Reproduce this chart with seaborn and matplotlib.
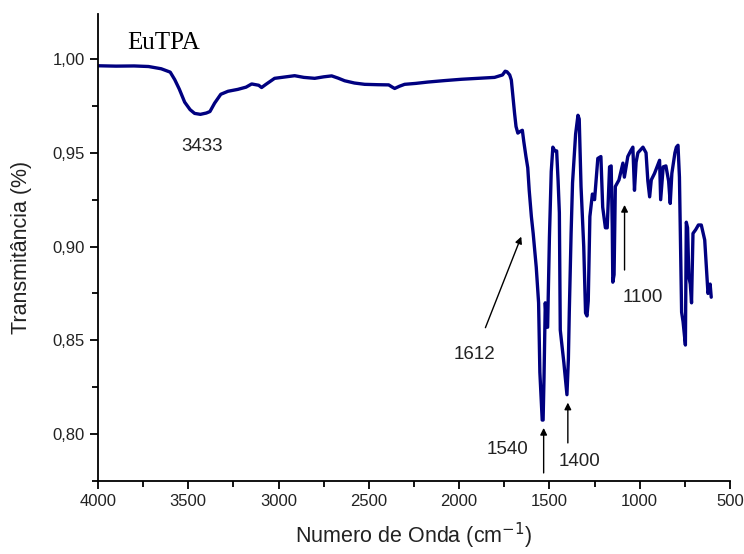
import matplotlib
matplotlib.use("Agg")
import matplotlib.pyplot as plt
import seaborn as sns
import pandas as pd
from matplotlib.ticker import MultipleLocator, FuncFormatter

wavenumber = [4000, 3900, 3800, 3720, 3650, 3600, 3575, 3550, 3520, 3490, 3465, 3433, 3400, 3380,
              3354, 3320, 3280, 3226, 3180, 3149, 3110, 3094, 3070, 3022, 2960, 2911, 2860, 2800,
              2750, 2706, 2670, 2634, 2580, 2523, 2450, 2390, 2370, 2357, 2330, 2302, 2240, 2175,
              2080, 1987, 1900, 1804, 1760, 1745, 1735, 1720, 1711, 1702, 1693, 1685, 1675, 1660,
              1650, 1642, 1630, 1620, 1612, 1600, 1590, 1573, 1560, 1553, 1540, 1535, 1530, 1523,
              1515, 1510, 1500, 1490, 1481, 1470, 1460, 1452, 1445, 1440, 1420, 1403, 1395, 1390,
              1380, 1372, 1355, 1342, 1335, 1325, 1310, 1300, 1292, 1285, 1276, 1262, 1250, 1232,
              1215, 1205, 1190, 1180, 1167, 1158, 1152, 1149, 1142, 1135, 1115, 1093, 1085, 1066,
              1050, 1038, 1029, 1020, 1010, 982, 965, 955, 945, 936, 918, 890, 884, 870, 855, 840,
              831, 822, 805, 797, 788, 780, 775, 768, 760, 747, 742, 735, 728, 720, 713, 705, 690,
              675, 659, 640, 622, 610, 604]
transmittance = [0.9964, 0.9962, 0.9963, 0.9960, 0.9948, 0.9930, 0.9890, 0.9840, 0.9770, 0.9730,
                 0.9710, 0.9705, 0.9712, 0.9720, 0.9765, 0.9812, 0.9828, 0.9838, 0.9850, 0.9867,
                 0.9860, 0.9848, 0.9865, 0.9897, 0.9905, 0.9911, 0.9902, 0.9897, 0.9905, 0.9910,
                 0.9898, 0.9884, 0.9872, 0.9865, 0.9863, 0.9862, 0.9850, 0.9843, 0.9855, 0.9865,
                 0.9870, 0.9877, 0.9885, 0.9892, 0.9897, 0.9902, 0.9915, 0.9935, 0.9932, 0.9915,
                 0.9888, 0.9800, 0.9710, 0.9640, 0.9605, 0.9615, 0.9620, 0.9560, 0.9480, 0.9420,
                 0.9300, 0.9160, 0.9070, 0.8890, 0.8700, 0.8330, 0.8075, 0.8075, 0.8300, 0.8700,
                 0.8570, 0.8570, 0.9050, 0.9400, 0.9530, 0.9510, 0.9510, 0.9350, 0.9180, 0.8555,
                 0.8380, 0.8210, 0.8400, 0.8650, 0.9070, 0.9340, 0.9600, 0.9700, 0.9680, 0.9320,
                 0.9000, 0.8646, 0.8630, 0.8710, 0.9160, 0.9280, 0.9250, 0.9470, 0.9480, 0.9210,
                 0.9100, 0.9100, 0.9425, 0.9430, 0.9100, 0.8810, 0.8850, 0.9320, 0.9355, 0.9445,
                 0.9370, 0.9480, 0.9510, 0.9530, 0.9300, 0.9450, 0.9500, 0.9530, 0.9500, 0.9350,
                 0.9265, 0.9355, 0.9390, 0.9460, 0.9250, 0.9425, 0.9430, 0.9350, 0.9230, 0.9390,
                 0.9500, 0.9530, 0.9540, 0.9370, 0.9070, 0.8650, 0.8600, 0.8475, 0.9130, 0.9100,
                 0.8840, 0.8800, 0.8700, 0.9070, 0.9090, 0.9115, 0.9115, 0.9035, 0.8750, 0.8800,
                 0.8730]

peak_labels = ["3433", "1612", "1540", "1400", "1100"]
sample_name = "EuTPA"
x_label = "Numero de Onda (cm$^{-1}$)"
y_label = "Transmitância (%)"

sns.set_style("ticks")
plt.rcParams['font.family'] = ['Liberation Sans', 'DejaVu Sans']

fig = plt.figure(figsize=(7.44, 5.54), dpi=100)
ax = fig.add_axes([98/744, 1-481/554, (730-98)/744, (481-14)/554])

df = pd.DataFrame({"wn": wavenumber, "T": transmittance})
sns.lineplot(data=df, x="wn", y="T", ax=ax, color="#000080", linewidth=2.4, sort=False)

ax.set_xlim(4000, 500)
ax.set_ylim(0.775, 1.024)
ax.xaxis.set_major_locator(MultipleLocator(500))
ax.xaxis.set_minor_locator(MultipleLocator(250))
ax.yaxis.set_major_locator(MultipleLocator(0.05))
ax.yaxis.set_minor_locator(MultipleLocator(0.025))
ax.yaxis.set_major_formatter(FuncFormatter(lambda v, p: f"{v:.2f}".replace(".", ",")))

for s in ["top", "right"]:
    ax.spines[s].set_visible(False)
for s in ["left", "bottom"]:
    ax.spines[s].set_linewidth(1.3)
    ax.spines[s].set_color("black")
ax.tick_params(which="major", direction="out", length=6, width=1.3, labelsize=12,
               labelcolor="#222222", color="black")
ax.tick_params(which="minor", direction="out", length=4, width=1.3, color="black")

ax.set_xlabel(x_label, fontsize=15.5, color="#222222", labelpad=8)
ax.set_ylabel(y_label, fontsize=15.5, color="#222222", labelpad=15)

ax.text(3636, 1.0085, sample_name, family="Liberation Serif", fontsize=18,
        ha="center", va="center", color="black")

tc = "#222222"
fs = 13.5
ax.text(3426, 0.9536, peak_labels[0], fontsize=fs, ha="center", va="center", color=tc)
ax.annotate(peak_labels[1], xy=(1656, 0.9053), xytext=(1914, 0.8422), fontsize=fs,
            ha="center", va="center", color=tc,
            arrowprops=dict(arrowstyle="-|>", color="black", lw=1.0, shrinkA=12, shrinkB=0,
                            mutation_scale=10))
ax.annotate("", xy=(1532, 0.8033), xytext=(1532, 0.7793),
            arrowprops=dict(arrowstyle="-|>", color="black", lw=1.0, shrinkA=0, shrinkB=0,
                            mutation_scale=10))
ax.text(1731, 0.7916, peak_labels[2], fontsize=fs, ha="center", va="center", color=tc)
ax.annotate("", xy=(1398, 0.8168), xytext=(1398, 0.7953),
            arrowprops=dict(arrowstyle="-|>", color="black", lw=1.0, shrinkA=0, shrinkB=0,
                            mutation_scale=10))
ax.text(1333, 0.7852, peak_labels[3], fontsize=fs, ha="center", va="center", color=tc)
ax.annotate("", xy=(1084, 0.9222), xytext=(1084, 0.8875),
            arrowprops=dict(arrowstyle="-|>", color="black", lw=1.0, shrinkA=0, shrinkB=0,
                            mutation_scale=10))
ax.text(984, 0.8731, peak_labels[4], fontsize=fs, ha="center", va="center", color=tc)

fig.savefig("out.png", dpi=100)
